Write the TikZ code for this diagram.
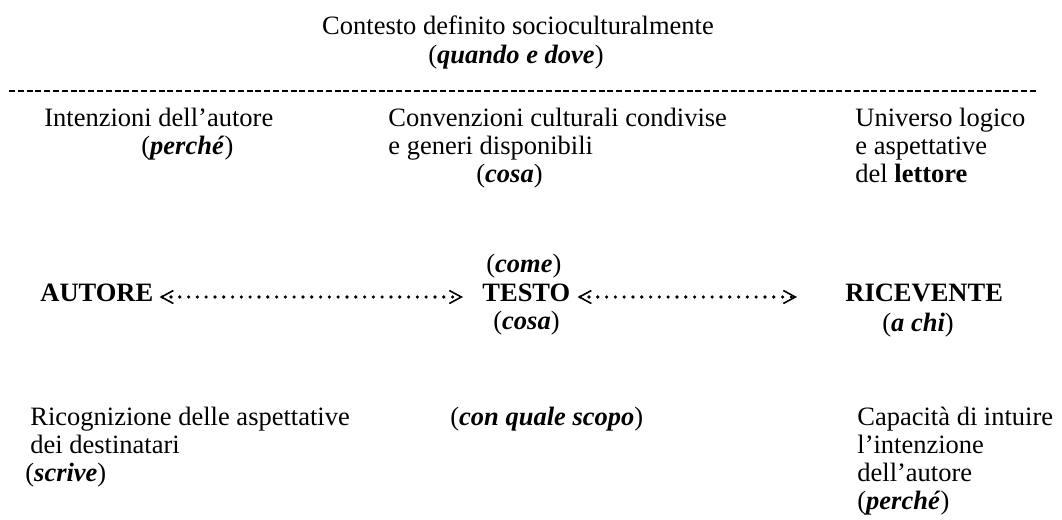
\documentclass[tikz,border=0pt]{standalone}
\usepackage{fontspec}
\setmainfont{Liberation Serif}
\usetikzlibrary{arrows.meta}

\newcommand{\bi}[1]{\textbf{\textit{#1}}}

\tikzset{
  txt/.style={anchor=base west, inner sep=0pt, font=\fontsize{13.25}{14.25}\selectfont},
  ctr/.style={txt, anchor=base},
  rule/.style={line width=0.85pt, dash pattern=on 3pt off 1.4pt},
  barb/.tip={Straight Barb[length=6pt, width=6.5pt, line width=0.8pt]},
  dotlink/.style={line width=1.8pt, dash pattern=on 0pt off 4.4pt, line cap=round, barb-barb}
}

\begin{document}
\begin{tikzpicture}[x=0.5pt, y=-0.5pt]
  \useasboundingbox (0,0) rectangle (1062,520);

  % Define nodes
  \node[ctr] (contesto) at (518,34) {Contesto definito socioculturalmente};
  \node[ctr] (quando) at (516,63) {(\bi{quando e dove})};

  \coordinate (rulel) at (9,91);
  \coordinate (ruler) at (1038,91);

  \node[txt] (intenz) at (44,126) {Intenzioni dell’autore};
  \node[txt] (percheA) at (141,154) {(\bi{perché})};
  \node[txt] (conv) at (388,126) {Convenzioni culturali condivise};
  \node[txt] (generi) at (388,154) {e generi disponibili};
  \node[txt] (cosaA) at (476,182) {(\bi{cosa})};
  \node[txt] (universo) at (855,126) {Universo logico};
  \node[txt] (aspett) at (855,154) {e aspettative};
  \node[txt] (lettore) at (855,182) {del \textbf{lettore}};

  \node[txt] (come) at (486,272) {(\bi{come})};
  \node[txt] (autore) at (40,301) {\textbf{AUTORE}};
  \node[txt] (testo) at (482,301) {\textbf{TESTO}};
  \node[txt] (ricevente) at (845,301) {\textbf{RICEVENTE}};
  \node[txt] (cosaB) at (493,329) {(\bi{cosa})};
  \node[txt] (achi) at (882,331) {(\bi{a chi})};

  \node[txt] (ricogn) at (30,425) {Ricognizione delle aspettative};
  \node[txt] (destin) at (30,453) {dei destinatari};
  \node[txt] (scrive) at (25,481) {(\bi{scrive})};
  \node[txt] (scopo) at (450,425) {(\bi{con quale scopo})};
  \node[txt] (capacita) at (857,425) {Capacità di intuire};
  \node[txt] (intenzione) at (857,453) {l’intenzione};
  \node[txt] (dellautore) at (857,481) {dell’autore};
  \node[txt] (percheB) at (857,509) {(\bi{perché})};

  % Connect the nodes
  \draw[rule] (rulel) -- (ruler);
  \draw[dotlink] ([xshift=3pt,yshift=2pt]autore.base east) -- ([xshift=-9.5pt,yshift=2pt]testo.base west);
  \draw[dotlink] ([xshift=3.5pt,yshift=2pt]testo.base east) -- ([xshift=-24pt,yshift=2pt]ricevente.base west);

\end{tikzpicture}
\end{document}
